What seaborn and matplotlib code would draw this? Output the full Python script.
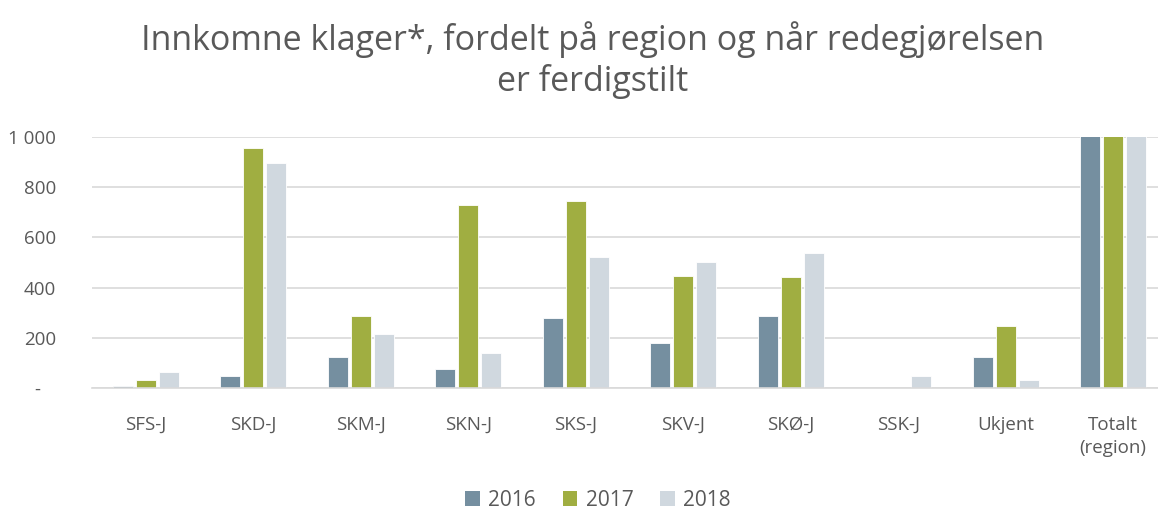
import matplotlib
matplotlib.use("Agg")
import matplotlib.pyplot as plt
import seaborn as sns
import pandas as pd
from matplotlib.patches import Patch

categories = ["SFS-J", "SKD-J", "SKM-J", "SKN-J", "SKS-J", "SKV-J", "SKØ-J", "SSK-J", "Ukjent", "Totalt\n(region)"]
years = ["2016", "2017", "2018"]
v2016 = [7, 48, 124, 75, 278, 181, 287, 0, 124, 1124]
v2017 = [33, 956, 287, 731, 747, 446, 441, 0, 246, 3887]
v2018 = [64, 895, 216, 139, 523, 502, 536, 48, 33, 2956]
yticks = [0, 200, 400, 600, 800, 1000]
ytick_labels = ["-   ", "200", "400", "600", "800", "1 000"]
colors = ["#758fa0", "#a0ae41", "#d0d8df"]
title = "Innkomne klager*, fordelt på region og når redegjørelsen\ner ferdigstilt"

rows = []
for y, vals in zip(years, [v2016, v2017, v2018]):
    for c, v in zip(categories, vals):
        rows.append({"region": c, "year": y, "value": v})
df = pd.DataFrame(rows)

sns.set_theme(style="white")
plt.rcParams["font.family"] = ["Open Sans", "DejaVu Sans"]

fig = plt.figure(figsize=(11.58, 5.14), dpi=100)
W, H = 1158, 514
left, right, top, bottom = 92, 1158, 137, 388
ax = fig.add_axes([left / W, 1 - bottom / H, (right - left) / W, (bottom - top) / H])

sns.barplot(data=df, x="region", y="value", hue="year", order=categories,
            hue_order=years, palette=colors, width=0.64, gap=0.12,
            saturation=1, ax=ax, legend=False, edgecolor="white", linewidth=0.6)

ax.set_ylim(0, 1000)
ax.set_xlim(-0.5, -0.5 + (right - left) / 107.5)
ax.set_yticks(yticks)
ax.set_yticklabels(ytick_labels)
ax.yaxis.grid(True, color="#d9d9d9", linewidth=1.2)
ax.set_axisbelow(True)
for s in ["top", "right", "left"]:
    ax.spines[s].set_visible(False)
ax.spines["bottom"].set_color("#d9d9d9")
ax.spines["bottom"].set_linewidth(1.2)
ax.tick_params(axis="both", length=0, labelsize=13.5, colors="#595959")
ax.tick_params(axis="x", pad=20)
ax.tick_params(axis="y", pad=26)
for t in ax.get_xticklabels():
    t.set_linespacing(1.35)
ax.set_xlabel("")
ax.set_ylabel("")

fig.text(593 / W, 1 - 60 / H, title, ha="center", va="center", fontsize=24.5,
         color="#595959", linespacing=1.2)

handles = [Patch(facecolor=c, edgecolor="none") for c in colors]
fig.legend(handles, years, loc="center", bbox_to_anchor=(598 / W, 1 - 500 / H),
           ncol=3, frameon=False, fontsize=15, handlelength=0.7, handleheight=0.7,
           handletextpad=0.4, columnspacing=1.3, labelcolor="#595959")

fig.savefig("out.png", dpi=100)
